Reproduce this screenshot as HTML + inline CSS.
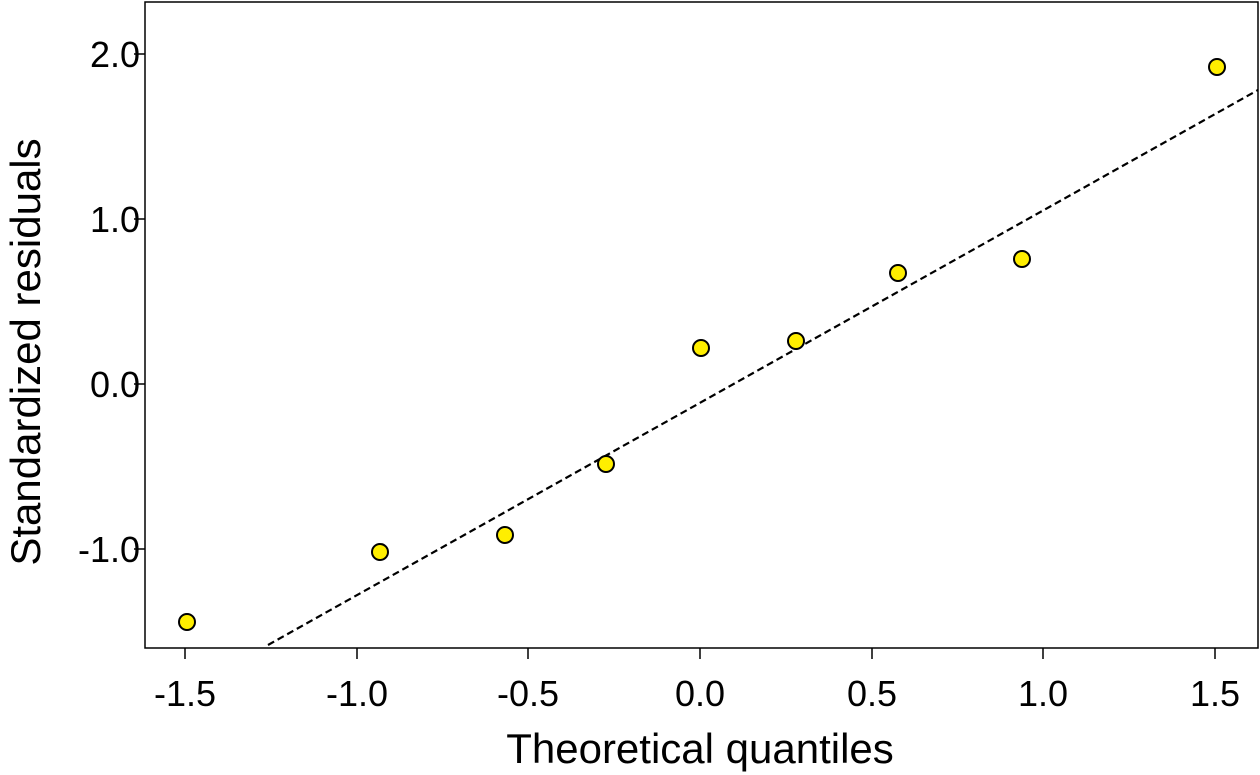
<!DOCTYPE html>
<html><head><style>body{margin:0;background:#fff}svg{display:block}</style></head><body>
<svg width="1260" height="775" xmlns="http://www.w3.org/2000/svg" font-family="Liberation Sans, Arial, sans-serif">
<rect x="145" y="2" width="1113" height="646" fill="none" stroke="#000" stroke-width="1.5"/>
<line x1="268" y1="645" x2="1258" y2="90" stroke="#000" stroke-width="2.2" stroke-dasharray="7,4"/>
<g stroke="#000" stroke-width="1.5">
<line x1="185" y1="648" x2="185" y2="659"/><line x1="357" y1="648" x2="357" y2="659"/><line x1="528" y1="648" x2="528" y2="659"/><line x1="700" y1="648" x2="700" y2="659"/><line x1="872" y1="648" x2="872" y2="659"/><line x1="1043" y1="648" x2="1043" y2="659"/><line x1="1215" y1="648" x2="1215" y2="659"/>
<line x1="134" y1="54" x2="145" y2="54"/><line x1="134" y1="219" x2="145" y2="219"/><line x1="134" y1="384" x2="145" y2="384"/><line x1="134" y1="549" x2="145" y2="549"/>
</g>
<g font-size="36" text-anchor="middle" fill="#000">
<text x="185" y="706">-1.5</text><text x="357" y="706">-1.0</text><text x="528" y="706">-0.5</text><text x="700" y="706">0.0</text><text x="872" y="706">0.5</text><text x="1043" y="706">1.0</text><text x="1215" y="706">1.5</text>
</g>
<g font-size="36" text-anchor="end" fill="#000">
<text x="140" y="67">2.0</text><text x="140" y="232">1.0</text><text x="140" y="397">0.0</text><text x="140" y="562">-1.0</text>
</g>
<text x="700" y="763" font-size="42" text-anchor="middle">Theoretical quantiles</text>
<text transform="translate(40,352) rotate(-90)" font-size="42" text-anchor="middle">Standardized residuals</text>
<g fill="#ffee00" stroke="#000" stroke-width="2">
<circle cx="187" cy="622" r="8"/><circle cx="380" cy="552" r="8"/><circle cx="505" cy="535" r="8"/><circle cx="606" cy="464" r="8"/><circle cx="701" cy="348" r="8"/><circle cx="796" cy="341" r="8"/><circle cx="898" cy="273" r="8"/><circle cx="1022" cy="259" r="8"/><circle cx="1217" cy="67" r="8"/>
</g>
</svg>
</body></html>
